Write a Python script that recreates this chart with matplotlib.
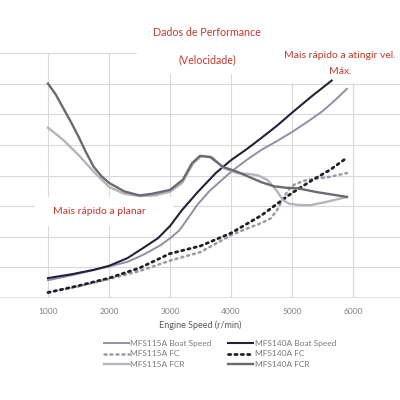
import matplotlib
matplotlib.use("Agg")
import matplotlib.pyplot as plt
from matplotlib.patches import Rectangle

plt.rcParams['font.family'] = ['Lato', 'DejaVu Sans']

# Data (rpm, arbitrary units on a 0-8 grid)
# -----------------------------
rpm_b115 = [1000, 1400, 2000, 2300, 2550, 2850, 3000, 3150, 3300, 3450, 3650, 4000,
            4250, 4500, 4750, 5000, 5250, 5500, 5700, 5900]
boat_115 = [0.58, 0.75, 1.03, 1.18, 1.4, 1.73, 1.95, 2.2, 2.62, 3.05, 3.5, 4.12,
            4.5, 4.84, 5.12, 5.42, 5.75, 6.1, 6.45, 6.83]

rpm_b140 = [1000, 1400, 1750, 2000, 2300, 2550, 2800, 3000, 3200, 3450, 3750, 4000,
            4250, 4500, 4750, 5000, 5300, 5650]
boat_140 = [0.65, 0.78, 0.92, 1.05, 1.3, 1.62, 1.95, 2.35, 2.88, 3.45, 4.08, 4.5,
            4.85, 5.23, 5.62, 6.05, 6.55, 7.1]

rpm_fc115 = [1000, 1500, 2000, 2500, 3000, 3500, 4000, 4200, 4500, 4650, 4750, 4850,
             4950, 5050, 5250, 5600, 5900]
fc_115 = [0.18, 0.38, 0.62, 0.88, 1.22, 1.5, 2.05, 2.22, 2.45, 2.6, 2.85, 3.25,
          3.55, 3.72, 3.86, 3.95, 4.08]

rpm_fc140 = [1000, 1500, 2000, 2500, 3000, 3500, 4000, 4500, 4800, 5000, 5340, 5620, 5900]
fc_140 = [0.18, 0.4, 0.65, 0.98, 1.45, 1.7, 2.12, 2.7, 3.14, 3.43, 3.86, 4.18, 4.58]

rpm_fcr115 = [1000, 1250, 1500, 1750, 2000, 2250, 2500, 2750, 3000, 3200, 3380, 3520,
              3690, 3870, 4100, 4300, 4450, 4600, 4750, 4850, 4950, 5100, 5300, 5570, 5900]
fcr_115 = [5.56, 5.16, 4.67, 4.12, 3.63, 3.4, 3.33, 3.35, 3.47, 3.76, 4.4, 4.64,
           4.6, 4.25, 4.08, 4.05, 4.0, 3.85, 3.5, 3.2, 3.08, 3.04, 3.03, 3.14, 3.3]

rpm_fcr140 = [1000, 1125, 1250, 1375, 1500, 1625, 1750, 1875, 2000, 2250, 2500, 2700,
              3000, 3210, 3360, 3490, 3660, 3870, 4100, 4300, 4500, 4700, 4900, 5100,
              5400, 5650, 5900]
fcr_140 = [7.0, 6.65, 6.2, 5.75, 5.27, 4.75, 4.28, 3.98, 3.76, 3.48, 3.35, 3.4,
           3.53, 3.86, 4.4, 4.64, 4.6, 4.28, 4.12, 3.95, 3.78, 3.65, 3.6, 3.58,
           3.46, 3.38, 3.3]

x_ticks = [1000, 2000, 3000, 4000, 5000, 6000]

red = '#c0392b'
grid_c = '#d9d9d9'

fig = plt.figure(figsize=(4, 4), dpi=100)
ax = fig.add_axes([0, 0.255, 1, 0.6125])
ax.set_xlim(213, 6770)
ax.set_ylim(0, 8)

# grid: full-width horizontals, verticals only at the ticks
for v in range(1, 9):
    ax.axhline(v, color=grid_c, lw=0.8, zorder=0.5)
for t in x_ticks:
    ax.axvline(t, color=grid_c, lw=0.8, zorder=0.5)
ax.axhline(0, color=grid_c, lw=1.2, zorder=0.5)

for s in ax.spines.values():
    s.set_visible(False)
ax.set_yticks([])
ax.set_xticks(x_ticks)
ax.tick_params(axis='x', length=0, pad=7, labelsize=6, labelcolor='#808080')
ax.set_xlabel('Engine Speed (r/min)', fontsize=6.5, color='#595959', labelpad=4)

# Series
# -----------------------------
h1, = ax.plot(rpm_b115, boat_115, color='#8e90a8', lw=1.4, label='MFS115A Boat Speed', zorder=3)
h2, = ax.plot(rpm_b140, boat_140, color='#22223a', lw=1.5, label='MFS140A Boat Speed', zorder=3)
h3, = ax.plot(rpm_fc115, fc_115, color='#9a9aa6', lw=1.8, ls=(0, (0.8, 1.6)),
              dash_capstyle='round', label='MFS115A FC', zorder=3)
h4, = ax.plot(rpm_fc140, fc_140, color='#202028', lw=2.0, ls=(0, (0.8, 1.5)),
              dash_capstyle='round', label='MFS140A FC', zorder=3)
h5, = ax.plot(rpm_fcr115, fcr_115, color='#b4b4bc', lw=1.7, label='MFS115A FCR', zorder=3)
h6, = ax.plot(rpm_fcr140, fcr_140, color='#6a6a74', lw=1.7, label='MFS140A FCR', zorder=3)
for h in (h1, h2, h5, h6):
    h.set_solid_joinstyle('round')

# white boxes behind the annotations hide the grid
ax.add_patch(Rectangle((2459, 7.35), 2600, 1.5, color='white', zorder=1, clip_on=False))
ax.add_patch(Rectangle((4700, 7.05), 2200, 1.8, color='white', zorder=1, clip_on=False))
ax.add_patch(Rectangle((787, 2.39), 2246, 0.91, color='white', zorder=1, clip_on=False))

# annotations
fig.text(0.518, 0.92, 'Dados de Performance', color=red, fontsize=7.7, ha='center', va='center')
fig.text(0.518, 0.85, '(Velocidade)', color=red, fontsize=7.7, ha='center', va='center')
fig.text(0.85, 0.862, 'Mais rápido a atingir vel.', color=red, fontsize=7.5, ha='center', va='center')
fig.text(0.85, 0.822, 'Máx.', color=red, fontsize=7.5, ha='center', va='center')
fig.text(0.133, 0.472, 'Mais rápido a planar', color=red, fontsize=7.5, ha='left', va='center')

# legend filled row by row like the original
order = [h1, h3, h5, h2, h4, h6]
leg = fig.legend(order, [h.get_label() for h in order], loc='center',
                 bbox_to_anchor=(0.55, 0.115), ncol=2, frameon=False,
                 fontsize=6, handlelength=3, handletextpad=0.2, columnspacing=2,
                 labelspacing=0.45)
for txt in leg.get_texts():
    txt.set_color('#7a7a80')

fig.savefig('out.png', dpi=100, facecolor='white')
